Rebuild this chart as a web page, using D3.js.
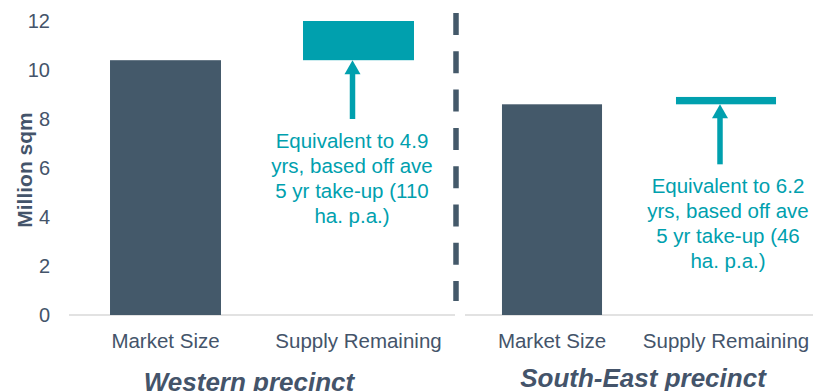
<!DOCTYPE html>
<html>
<head>
<meta charset="utf-8">
<script src="https://cdn.jsdelivr.net/npm/d3@7"></script>
<style>
  body { margin: 0; background: #fff; overflow: hidden; }
  svg { font-family: "Liberation Sans", Arial, sans-serif; display: block; }
</style>
</head>
<body>
<svg id="chart" width="813" height="391"></svg>
<script>
// data
var precincts = ["Western precinct", "South-East precinct"];
var categories = ["Market Size", "Supply Remaining"];
var marketSize = [10.4, 8.6];
var supplyRemaining = [1.6, 0.3];
var yTicks = [0, 2, 4, 6, 8, 10, 12];
var notes = [
    ["Equivalent to 4.9", "yrs, based off ave", "5 yr take-up (110", "ha. p.a.)"],
    ["Equivalent to 6.2", "yrs, based off ave", "5 yr take-up (46", "ha. p.a.)"]
];
var arrowBase = [8.0, 6.15];

var dark = "#44596a", teal = "#00a0ae", textCol = "#44546a";

var svg = d3.select("#chart");
var y = d3.scaleLinear().domain([0, 12]).range([315, 21]);

// y axis labels
svg.append("g").selectAll("text").data(yTicks).join("text")
    .attr("x", 50).attr("y", d => y(d)).attr("dy", "0.36em")
    .attr("text-anchor", "end").attr("font-size", 20).attr("fill", textCol)
    .text(d => d);

svg.append("text")
    .attr("transform", "translate(32,170) rotate(-90)")
    .attr("text-anchor", "middle").attr("font-size", 21).attr("font-weight", "bold")
    .attr("fill", textCol).text("Million sqm");

var panels = [[69, 455], [465, 813]];
var noteX = [352, 728];
var titleX = [249, 643], titleY = [391, 387];

panels.forEach(function (range, i) {
    var x = d3.scaleBand().domain(categories).range(range)
        .paddingInner(0.425).paddingOuter(0.2125);
    var g = svg.append("g");

    g.append("line")
        .attr("x1", range[0]).attr("x2", range[1]).attr("y1", y(0)).attr("y2", y(0))
        .attr("stroke", "#d9d9d9").attr("stroke-width", 1.5);

    // market size bar
    g.append("rect")
        .attr("x", x("Market Size")).attr("width", x.bandwidth())
        .attr("y", y(marketSize[i])).attr("height", y(0) - y(marketSize[i]))
        .attr("fill", dark);

    // floating supply bar
    var top = marketSize[i] + supplyRemaining[i];
    g.append("rect")
        .attr("x", x("Supply Remaining")).attr("width", x.bandwidth())
        .attr("y", y(top)).attr("height", y(marketSize[i]) - y(top))
        .attr("fill", teal);

    // category labels
    g.selectAll(".cat").data(categories).join("text")
        .attr("x", d => x(d) + x.bandwidth() / 2).attr("y", 348)
        .attr("text-anchor", "middle").attr("font-size", 20.5).attr("fill", textCol)
        .text(d => d);

    // precinct title
    g.append("text")
        .attr("x", titleX[i]).attr("y", titleY[i])
        .attr("text-anchor", "middle").attr("font-size", 26)
        .attr("font-weight", "bold").attr("font-style", "italic")
        .attr("fill", textCol).text(precincts[i]);

    // arrow
    var ax = x("Supply Remaining") + x.bandwidth() / 2 - 6;
    var tip = y(marketSize[i]);
    g.append("line")
        .attr("x1", ax).attr("x2", ax).attr("y1", y(arrowBase[i])).attr("y2", tip + 12)
        .attr("stroke", teal).attr("stroke-width", 5.5);
    g.append("path")
        .attr("d", "M" + ax + "," + tip + "L" + (ax + 8) + "," + (tip + 14) + "L" + (ax - 8) + "," + (tip + 14) + "Z")
        .attr("fill", teal);

    // note text
    var ty = y(arrowBase[i]) + 29;
    g.append("text")
        .attr("text-anchor", "middle").attr("font-size", 20.5).attr("fill", teal)
        .selectAll("tspan").data(notes[i]).join("tspan")
        .attr("x", noteX[i]).attr("y", (d, k) => ty + k * 25)
        .text(d => d);
});

// dashed separator
svg.append("line")
    .attr("x1", 456).attr("x2", 456).attr("y1", 13).attr("y2", 301)
    .attr("stroke", dark).attr("stroke-width", 5.5).attr("stroke-dasharray", "22,16.3");
</script>
</body>
</html>
